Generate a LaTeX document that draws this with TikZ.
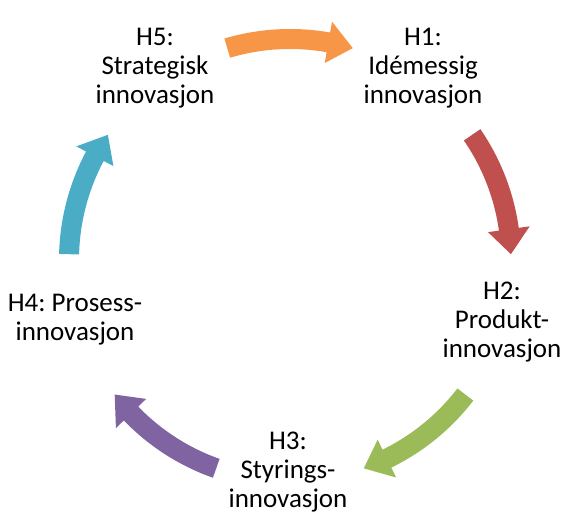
\documentclass[tikz,border=0pt]{standalone}
\usepackage{fontspec}
\setmainfont{Carlito}
\frenchspacing
\definecolor{cOrange}{HTML}{F79646}
\definecolor{cRed}{HTML}{C0504D}
\definecolor{cGreen}{HTML}{9BBB59}
\definecolor{cPurple}{HTML}{8064A2}
\definecolor{cCyan}{HTML}{4BACC6}
\newcommand{\cycarrow}[2]{%
  % #1 colour, #2 centre angle; arrow runs clockwise
  \pgfmathsetmacro{\at}{#2+16.5}
  \pgfmathsetmacro{\ap}{#2-16.5}
  \pgfmathsetmacro{\ab}{\ap+6.5}
  \fill[#1] (\at:231pt) arc[start angle=\at, end angle=\ab, radius=231pt]
    -- (\ab:242pt) -- (\ap:221pt) -- (\ab:200pt) -- (\ab:211pt)
    arc[start angle=\ab, end angle=\at, radius=211pt] -- cycle;
}
\begin{document}
\begin{tikzpicture}[x=1pt,y=1pt,
  lbl/.style={align=center, font=\fontsize{27}{29}\selectfont, text=black, inner sep=0pt}]
\useasboundingbox (0,0) rectangle (567,513);
\begin{scope}[shift={(290pt,253pt)}]
  \cycarrow{cOrange}{90}
  \cycarrow{cRed}{18}
  \cycarrow{cGreen}{-54}
  \cycarrow{cPurple}{-126}
  \cycarrow{cCyan}{162}
\end{scope}
\node[lbl] (h5) at (155,445) {H5:\\Strategisk\\innovasjon};
\node[lbl] (h1) at (423,445) {H1:\\Idémessig\\innovasjon};
\node[lbl] (h2) at (502,191) {H2:\\Produkt-\\innovasjon};
\node[lbl] (h3) at (288,41) {H3:\\Styrings-\\innovasjon};
\node[lbl] (h4) at (75,193) {H4: Prosess-\\innovasjon};
\end{tikzpicture}
\end{document}
